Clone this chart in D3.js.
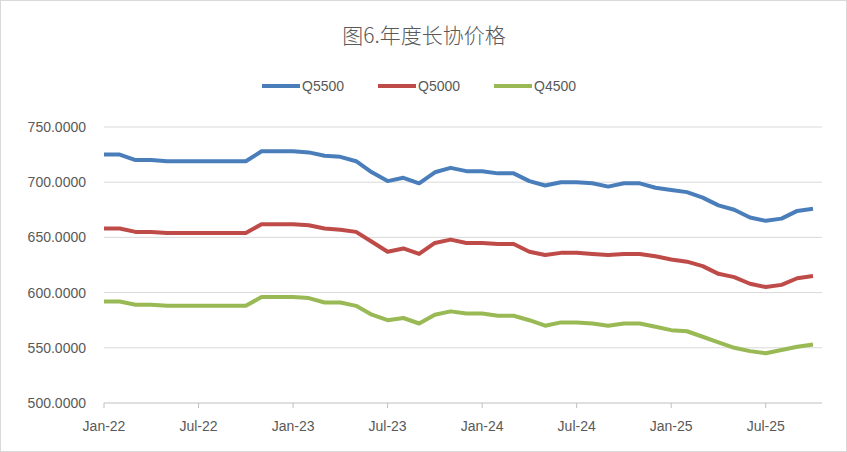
<!DOCTYPE html>
<html><head><meta charset="utf-8">
<script src="https://cdn.jsdelivr.net/npm/d3@7"></script>
<style>body{margin:0;background:#fff}</style>
</head><body>
<script>
const q5500 = [725,725,720,720,719,719,719,719,719,719,728,728,728,727,724,723,719,709,701,704,699,709,713,710,710,708,708,701,697,700,700,699,696,699,699,695,693,691,686,679,675,668,665,667,674,676];
const q5000 = [658,658,655,655,654,654,654,654,654,654,662,662,662,661,658,657,655,646,637,640,635,645,648,645,645,644,644,637,634,636,636,635,634,635,635,633,630,628,624,617,614,608,605,607,613,615];
const q4500 = [592,592,589,589,588,588,588,588,588,588,596,596,596,595,591,591,588,580,575,577,572,580,583,581,581,579,579,575,570,573,573,572,570,572,572,569,566,565,560,555,550,547,545,548,551,553];
const xLabels = ['Jan-22','Jul-22','Jan-23','Jul-23','Jan-24','Jul-24','Jan-25','Jul-25'];
const yTicks = [500,550,600,650,700,750];
const series = [
  {name:'Q5500', values:q5500, color:'#4a7ebb'},
  {name:'Q5000', values:q5000, color:'#be4b48'},
  {name:'Q4500', values:q4500, color:'#98b954'}
];

const W = 847, H = 452;
const svg = d3.select('body').append('svg').attr('width', W).attr('height', H)
  .style('font-family', '"Liberation Sans", Arial, sans-serif');
svg.append('rect').attr('x',0.5).attr('y',0.5).attr('width',W-1).attr('height',H-1)
  .attr('fill','#fff').attr('stroke','#d9d9d9');

const x = d3.scaleLinear().domain([0, 45]).range([104, 813]);
const y = d3.scaleLinear().domain([500, 750]).range([403, 127]);

svg.append('text').attr('x', 424).attr('y', 43).attr('text-anchor','middle')
  .attr('font-size', 21).attr('fill','#595959').attr('font-weight', 300)
  .style('font-family','"Noto Sans CJK SC", sans-serif').text('图6.年度长协价格');

// grid
svg.selectAll('.grid').data(yTicks.slice(1)).enter().append('line')
  .attr('x1', 104).attr('x2', 822).attr('y1', d => y(d)).attr('y2', d => y(d))
  .attr('stroke', '#d9d9d9');
svg.append('line').attr('x1',104).attr('x2',822).attr('y1',y(500)).attr('y2',y(500)).attr('stroke','#bfbfbf');
svg.selectAll('.xt').data(d3.range(0, 46, 6)).enter().append('line')
  .attr('x1', d => x(d)).attr('x2', d => x(d)).attr('y1', y(500)).attr('y2', y(500) + 5)
  .attr('stroke', '#bfbfbf');

svg.selectAll('.yl').data(yTicks).enter().append('text')
  .attr('x', 86).attr('y', d => y(d) + 5).attr('text-anchor','end')
  .attr('font-size', 14).attr('fill','#595959').text(d => d.toFixed(4));
svg.selectAll('.xl').data(xLabels).enter().append('text')
  .attr('x', (d, i) => x(i * 6)).attr('y', 431).attr('text-anchor','middle')
  .attr('font-size', 14).attr('fill','#595959').text(d => d);

const line = d3.line().x((d, i) => x(i)).y(d => y(d));
series.forEach(s => {
  svg.append('path').attr('d', line(s.values)).attr('fill','none')
    .attr('stroke', s.color).attr('stroke-width', 4).attr('stroke-linejoin','round');
});

// legend
const lx = [262, 378, 494];
series.forEach((s, i) => {
  svg.append('line').attr('x1', lx[i]).attr('x2', lx[i] + 38).attr('y1', 86).attr('y2', 86)
    .attr('stroke', s.color).attr('stroke-width', 4);
  svg.append('text').attr('x', lx[i] + 40).attr('y', 91).attr('font-size', 14)
    .attr('fill','#595959').text(s.name);
});
</script>
</body></html>
